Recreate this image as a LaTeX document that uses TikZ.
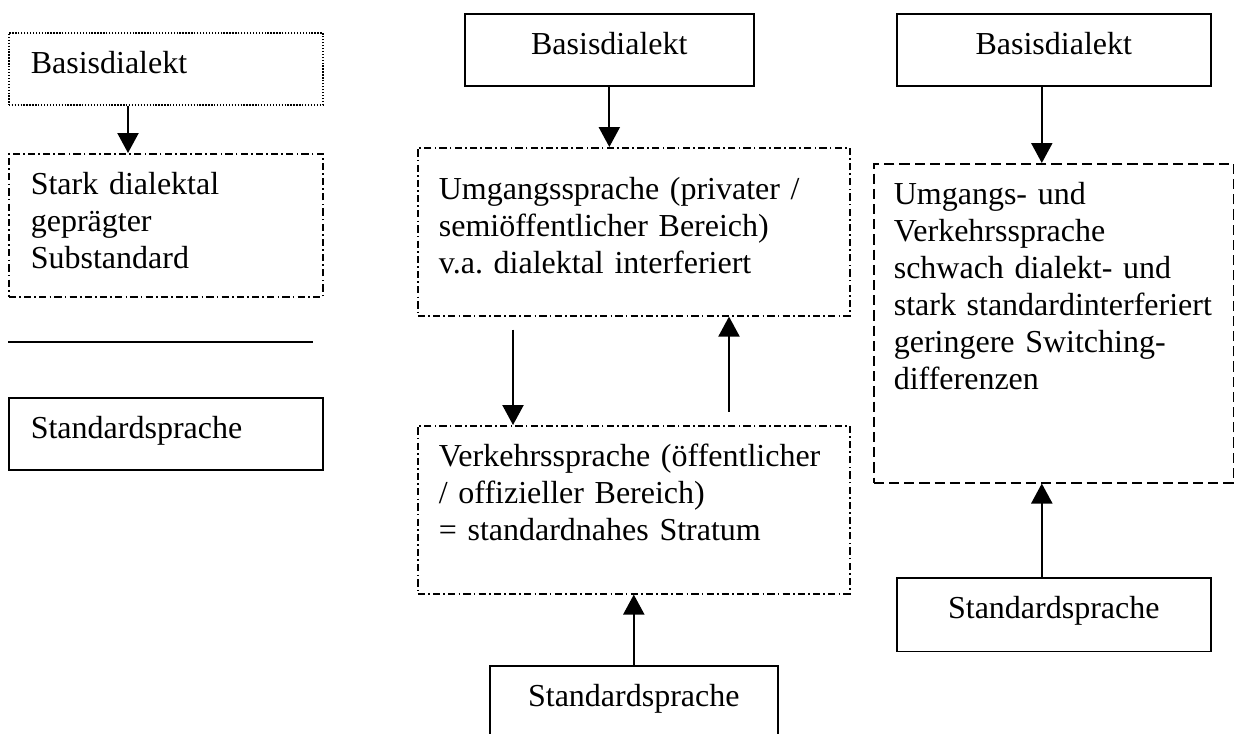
\documentclass[tikz,border=0pt]{standalone}
\usepackage{fontspec}
\setmainfont{Liberation Serif}
\usetikzlibrary{arrows.meta}
\tikzset{
	cell/.style={draw, line width=0.6pt, anchor=north west, inner ysep=0pt, inner xsep=8.25pt,
		align=left, text height=15.4pt, font=\fontsize{12}{13.85}\selectfont},
	dotbox/.style={dash pattern=on 0.5pt off 0.6pt},
	dashdotbox/.style={dash pattern=on 2.7pt off 1.2pt on 0.6pt off 1.2pt},
	dashbox/.style={dash pattern=on 3.8pt off 1.9pt},
	arr/.style={line width=0.75pt, -{Triangle[length=7.5pt,width=7.9pt]}}
}
\begin{document}
\begin{tikzpicture}[x=0.375pt,y=-0.375pt]
\useasboundingbox (0,0) rectangle (1234,733);
\node[cell,dotbox,text width=101.25pt,text depth=11.6pt] (lbasis) at (8,32) {Basisdialekt};
\node[cell,dashdotbox,text width=101.25pt,text depth=38.2pt] (lstark) at (8,153) {Stark dialektal\\gepr\"agter\\Substandard};
\draw[line width=0.5pt] (8,342) -- (313,342);
\node[cell,text width=101.25pt,text depth=11.6pt] (lstd) at (8,397) {Standardsprache};

\node[cell,align=center,inner xsep=8pt,text width=92.4pt,text depth=11.6pt] (mbasis) at (464,13) {Basisdialekt};
\node[cell,dashdotbox,inner xsep=7.9pt,text width=146.2pt,text height=19.5pt,text depth=43.5pt] (mumg) at (417,147)
	{Umgangssprache (privater /\\semi\"offentlicher Bereich)\\v.a.\ dialektal interferiert};
\node[cell,dashdotbox,inner xsep=7.9pt,text width=146.2pt,text depth=47.6pt] (mverk) at (417,425)
	{Verkehrssprache (\"offentlicher\\/ offizieller Bereich)\\= standardnahes Stratum};
\node[cell,align=center,inner xsep=8pt,text width=92pt,text depth=11.6pt] (mstd) at (489,665) {Standardsprache};

\node[cell,align=center,inner xsep=8pt,text width=101.75pt,text depth=11.6pt] (rbasis) at (896,13) {Basisdialekt};
\node[cell,dashbox,inner xsep=7.5pt,text width=120pt,text depth=104.2pt] (rmix) at (873,163)
	{Umgangs- und\\Verkehrssprache\\schwach dialekt- und\\stark standardinterferiert\\geringere Switching-\\differenzen};
\node[cell,align=center,inner xsep=8pt,text width=101.75pt,text depth=12.3pt] (rstd) at (896,577) {Standardsprache};

\draw[arr] ([xshift=45pt]lbasis.south west) -- ([xshift=45pt]lstark.north west);
\draw[arr] (mbasis.south) -- (mbasis.south |- mumg.north);
\draw[arr] ([xshift=36pt,yshift=-4.9pt]mumg.south west) -- ([xshift=36pt]mverk.north west);
\draw[arr] ([xshift=117pt,yshift=4.9pt]mverk.north west) -- ([xshift=117pt]mumg.south west);
\draw[arr] (mstd.north) -- (mstd.north |- mverk.south);
\draw[arr] ([xshift=-4.5pt]rbasis.south) -- ([xshift=-4.5pt]rbasis.south |- rmix.north);
\draw[arr] ([xshift=-4.5pt]rstd.north) -- ([xshift=-4.5pt]rstd.north |- rmix.south);
\end{tikzpicture}
\end{document}
